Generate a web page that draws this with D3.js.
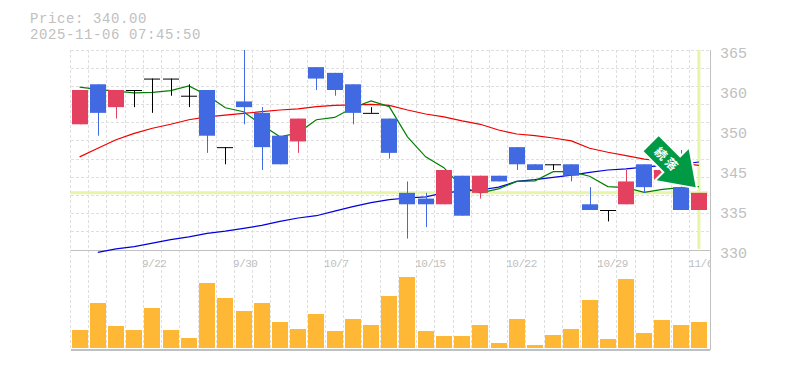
<!DOCTYPE html>
<html>
<head>
<meta charset="utf-8">
<title>Price chart</title>
<script src="https://cdn.jsdelivr.net/npm/d3@7"></script>
<style>
  html, body { margin: 0; padding: 0; background: #fff; }
  svg { display: block; }
  text { font-family: "Liberation Mono", monospace; fill: #c0c0c0; }
</style>
</head>
<body>
<div id="chart"></div>
<script>
// Header
const priceLabel = "Price: 340.00";
const timeLabel = "2025-11-06 07:45:50";
const lastPrice = 340;

// Candles, one entry per session
const opens  = [352,359,355,358,360,360,357,358,348,356,354,350,349,362,361,359,354,353,340,339,338,343,340,343,348,345,345,345,338,337,338,345,342,341,337];
const closes = [358,354,358,358,360,360,357,350,348,355,348,345,353,360,358,354,354,347,338,338,344,336,343,342,345,344,345,343,337,337,342,341,344,337,340];
const highs  = [358,359,358,358,360,360,359,358,348,365,355,350,353,362,361,359,355,353,342,340,344,343,343,343,348,345,345,345,341,337,344,345,344,347.5,340];
const lows   = [352,350,353,355,354,357,355,347,345,352,344,345,347,358,357,352,354,346,332,334,338,336,339,342,344,344,344,342,337,335,338,340,342,337,337];
const volumes = [18,45,22,18,40,18,10,65,50,37,45,26,19,34,17,29,23,52,71,17,12,12,23,5,29,3,13,19,48,9,69,15,28,23,26];

// Moving averages
const maShort = [358.5,358.1,357.8,357.5,357.6,357.9,358.7,357.1,354.9,354.2,351.9,349.8,350.5,352.8,353.2,354.9,356.1,355.1,349.8,346.3,344.4,341,340,340.7,342,342.1,343.7,343.7,342.9,341.1,340.9,340.1,340.6,340.9,341.1];
const maMid = [346.3,347.8,349.3,350.4,351.3,352,352.8,353.3,353.6,353.9,354.2,354.5,354.7,355.1,355.3,355.4,355.5,355.3,354.5,353.8,353.3,352.6,352,351,350.3,350,349.6,349.1,347.8,347.1,346.5,345.9,345.6,345.2,344.8];
const maLong = [null,329.6,330.2,330.6,331.2,331.8,332.3,332.9,333.3,333.8,334.3,335,335.6,336,336.8,337.6,338.3,338.8,339.1,339.3,340,340.3,340.5,341,342,342.3,342.7,343.1,343.6,344,344.2,344.5,344.8,345,345.4];

// Axis labels (tick values are 7 apart, labels are rounded to 5)
const priceTicks = [330,337,344,351,358,365];
const priceTickLabels = ["330","335","345","350","360","365"];
const dateTicks = [4,9,14,19,24,29,34];
const dateTickLabels = ["9/22","9/30","10/7","10/15","10/22","10/29","11/6"];

const arrowLabel = "続落";

const width = 785, height = 370;
const plotLeft = 70.5, plotRight = 708, plotTop = 50, mainBottom = 250, volBottom = 348, frameBottom = 350;
const gridColor = "#dfdfdf", frameColor = "#c0c0c0", priceColor = "#e6f5a8";
const upColor = "#e4405f", downColor = "#4169e1", flatColor = "#000", volColor = "#ffb835";

const indexes = d3.range(opens.length);
const x = d3.scaleBand().domain(indexes).range([plotLeft, plotRight]);
const y = d3.scaleLinear().domain([330, 365]).range([mainBottom, plotTop]);
const yVol = d3.scaleLinear().domain([0, 100]).range([volBottom, volBottom - 100]);
const cx = i => x(i) + x.bandwidth() / 2;
const candleWidth = 16;

const svg = d3.select("#chart").append("svg")
  .attr("width", width)
  .attr("height", height);

svg.append("defs").append("clipPath").attr("id", "dateClip")
  .append("rect").attr("x", 60).attr("y", -5).attr("width", 651).attr("height", 30);

// Header text
svg.selectAll("text.header")
  .data([[priceLabel, 22.5], [timeLabel, 38.5]])
  .join("text")
  .attr("class", "header")
  .attr("x", 30)
  .attr("y", d => d[1])
  .attr("font-size", 14)
  .attr("letter-spacing", 0.6)
  .text(d => d[0]);

// Grid
const grid = svg.append("g")
  .attr("stroke", gridColor)
  .attr("stroke-dasharray", "3,2")
  .attr("shape-rendering", "crispEdges");

grid.selectAll("line.v")
  .data(indexes)
  .join("line")
  .attr("class", "v")
  .attr("x1", d => x(d)).attr("x2", d => x(d))
  .attr("y1", plotTop).attr("y2", frameBottom);

grid.selectAll("line.h")
  .data(d3.range(0, 11))
  .join("line")
  .attr("class", "h")
  .attr("x1", plotLeft).attr("x2", 710)
  .attr("y1", d => plotTop + d * 200 / 11).attr("y2", d => plotTop + d * 200 / 11);

// Last price cross
svg.append("line")
  .attr("x1", plotLeft).attr("x2", plotRight)
  .attr("y1", y(lastPrice)).attr("y2", y(lastPrice))
  .attr("stroke", priceColor).attr("stroke-width", 3);
svg.append("line")
  .attr("x1", cx(34)).attr("x2", cx(34))
  .attr("y1", plotTop).attr("y2", mainBottom - 1)
  .attr("stroke", priceColor).attr("stroke-width", 3);

// Frame
const frame = svg.append("g").attr("stroke", frameColor).attr("shape-rendering", "crispEdges");
frame.append("line").attr("x1", plotLeft).attr("x2", 710).attr("y1", mainBottom + 0.5).attr("y2", mainBottom + 0.5);
frame.append("line").attr("x1", plotLeft).attr("x2", 710).attr("y1", frameBottom).attr("y2", frameBottom).attr("stroke-width", 2);
frame.append("line").attr("x1", 710.5).attr("x2", 710.5).attr("y1", plotTop).attr("y2", frameBottom);

// Volume
svg.append("g").selectAll("rect")
  .data(indexes)
  .join("rect")
  .attr("x", d => Math.round(cx(d) - candleWidth / 2))
  .attr("width", candleWidth)
  .attr("y", d => yVol(volumes[d]))
  .attr("height", d => volBottom - yVol(volumes[d]))
  .attr("fill", volColor);

// Moving averages
const line = d3.line()
  .defined(d => d[1] !== null)
  .x(d => cx(d[0]))
  .y(d => y(d[1]));
const maLines = [[maLong, "#0000e0"], [maMid, "#f00000"], [maShort, "#008000"]];
svg.append("g").selectAll("path")
  .data(maLines)
  .join("path")
  .attr("fill", "none")
  .attr("stroke", d => d[1])
  .attr("stroke-width", 1.2)
  .attr("d", d => line(d[0].map((v, i) => [i, v])));

// Candles
const candleColor = i => closes[i] > opens[i] ? upColor : closes[i] < opens[i] ? downColor : flatColor;
const candles = svg.append("g").selectAll("g")
  .data(indexes)
  .join("g");

candles.append("line")
  .attr("x1", d => Math.round(cx(d)) + 0.5).attr("x2", d => Math.round(cx(d)) + 0.5)
  .attr("y1", d => y(highs[d])).attr("y2", d => y(lows[d]))
  .attr("stroke", candleColor)
  .attr("stroke-width", 1);

candles.append("rect")
  .attr("x", d => Math.round(cx(d) - candleWidth / 2))
  .attr("width", candleWidth)
  .attr("y", d => y(Math.max(opens[d], closes[d])))
  .attr("height", d => Math.max(1, Math.abs(y(opens[d]) - y(closes[d]))))
  .attr("fill", candleColor);

// Signal arrow, placed from the candle it points at
const tipX = cx(33) + 15, tipY = y(341);
const arrowShape = [[-37,-51],[-15.5,-29.5],[-7,-38],[0,0],[-39,-7],[-31,-15],[-52,-36]];
const arrow = svg.append("g").attr("transform", `translate(${tipX},${tipY})`);
arrow.append("polygon")
  .attr("points", arrowShape.join(" "))
  .attr("fill", "#009944")
  .attr("stroke", "#fff")
  .attr("stroke-width", 4)
  .attr("paint-order", "stroke");
arrow.append("text")
  .attr("transform", "translate(-28.6,-27) rotate(45)")
  .attr("text-anchor", "middle")
  .attr("font-size", 12)
  .attr("font-weight", "bold")
  .attr("letter-spacing", 3)
  .style("font-family", '"Noto Sans CJK JP"')
  .style("fill", "#fff")
  .attr("dy", "0.35em")
  .text(arrowLabel);

// Axes
const yAxis = d3.axisRight(y)
  .tickValues(priceTicks)
  .tickSize(0)
  .tickPadding(10)
  .tickFormat((d, i) => priceTickLabels[i]);
const yAxisG = svg.append("g").attr("transform", "translate(710,0)").call(yAxis);
yAxisG.select(".domain").remove();
yAxisG.selectAll("text").attr("font-size", 15).attr("font-family", null).attr("dy", "0.47em");

const xAxis = d3.axisBottom(x)
  .tickValues(dateTicks)
  .tickSize(0)
  .tickPadding(0)
  .tickFormat((d, i) => dateTickLabels[i]);
const xAxisG = svg.append("g")
  .attr("transform", "translate(0,258)")
  .attr("clip-path", "url(#dateClip)")
  .call(xAxis);
xAxisG.select(".domain").remove();
xAxisG.selectAll("text")
  .attr("font-size", 11)
  .attr("font-family", null)
  .attr("letter-spacing", -0.5)
  .attr("text-anchor", "start")
  .attr("dx", -10.5)
  .attr("y", 0)
  .attr("dy", "0.8em");
</script>
</body>
</html>
